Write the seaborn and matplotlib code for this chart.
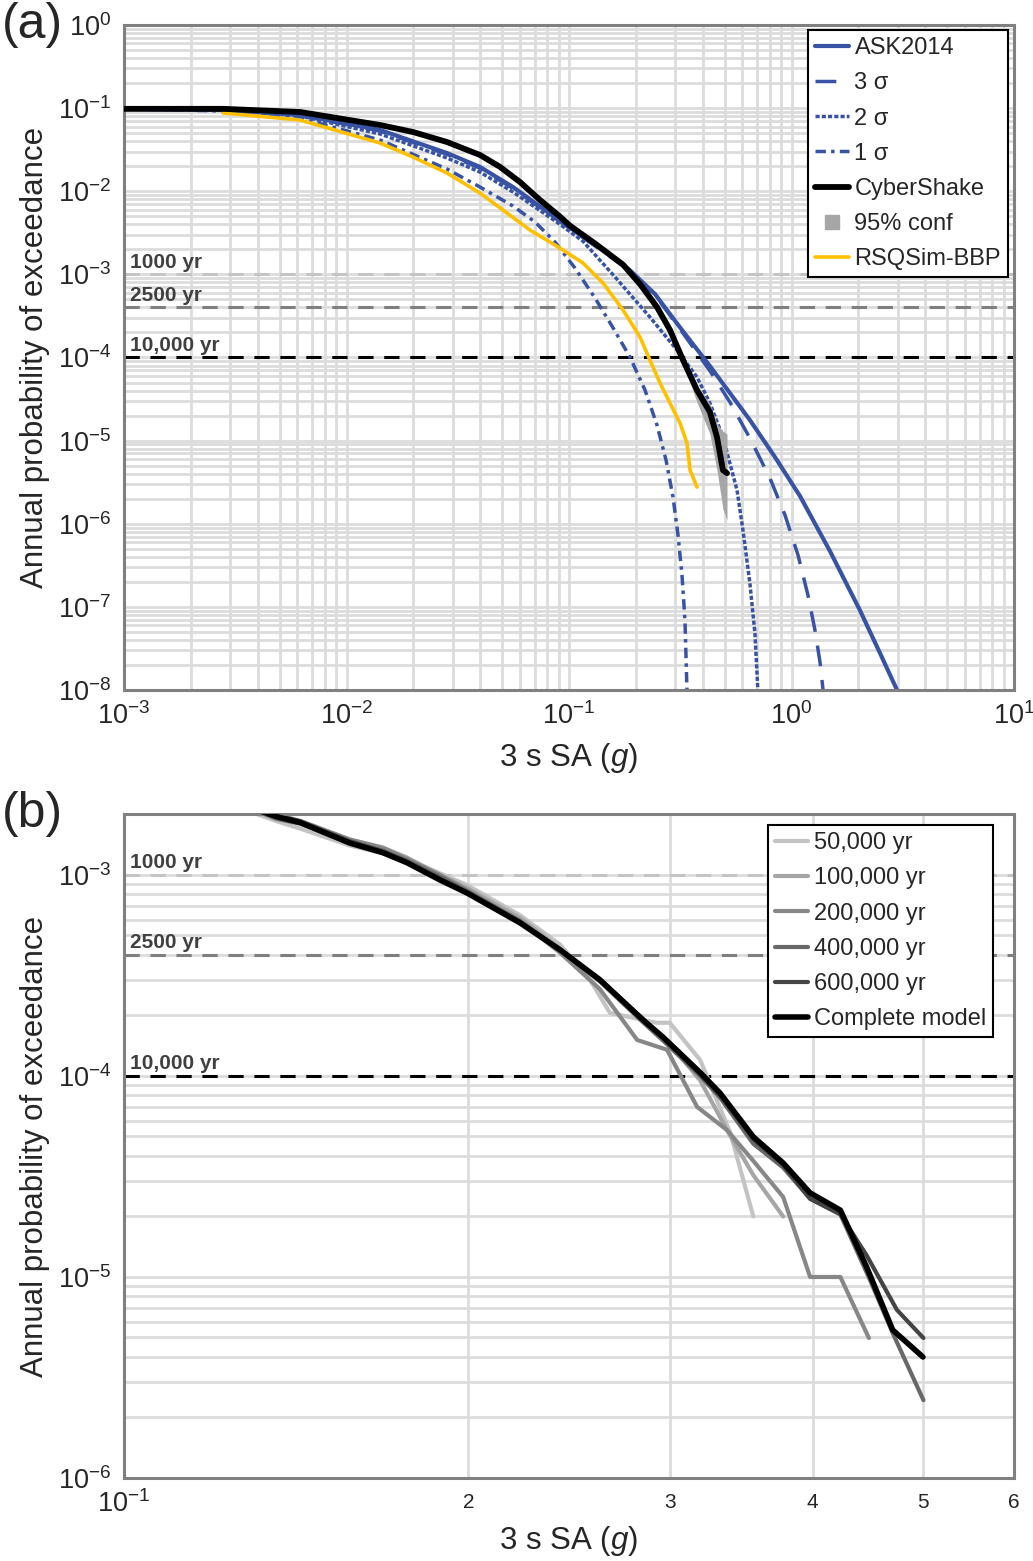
import matplotlib
matplotlib.use("Agg")
import matplotlib.pyplot as plt
import matplotlib.ticker as mticker
from matplotlib.lines import Line2D
import numpy as np
import seaborn as sns

sns.set_style("white")
plt.rcParams['font.family'] = ['Liberation Sans', 'DejaVu Sans']
plt.rcParams['mathtext.fontset'] = 'custom'
plt.rcParams['mathtext.rm'] = 'Liberation Sans'
plt.rcParams['mathtext.it'] = 'Liberation Sans:italic'
plt.rcParams['mathtext.bf'] = 'Liberation Sans:bold'
plt.rcParams['mathtext.sf'] = 'Liberation Sans'

# ---------------- panel (a) data ----------------
ask_x = [1e-3, 2.79e-3, 6.18e-3, 0.01416, 0.0283, 0.0398, 0.056, 0.0911, 0.1378, 0.188,
         0.2434, 0.3155, 0.430, 0.650, 0.843, 1.092, 1.489, 2.03, 2.50, 2.98]
ask_y = [0.098, 0.0949, 0.0826, 0.0545, 0.0288, 0.0196, 0.01124, 4.4e-3, 2.05e-3, 1.12e-3,
         5.8e-4, 2.3e-4, 7.88e-5, 1.77e-5, 6.33e-6, 2.15e-6, 4.68e-7, 9.1e-8, 2.77e-8, 1e-8]

s3_x = [1e-3, 2.79e-3, 6.18e-3, 0.01416, 0.0283, 0.0398, 0.056, 0.0911, 0.1378, 0.188,
        0.2434, 0.3155, 0.430, 0.529, 0.650, 0.800, 0.935, 1.070, 1.186, 1.275, 1.343, 1.386]
s3_y = [0.098, 0.0945, 0.0815, 0.0530, 0.0278, 0.0189, 0.0108, 4.3e-3, 2.0e-3, 1.1e-3,
        5.65e-4, 2.2e-4, 6.9e-5, 2.90e-5, 1.07e-5, 3.54e-6, 1.27e-6, 4.19e-7, 1.38e-7,
        5.25e-8, 2.16e-8, 1e-8]

s2_x = [1e-3, 2.79e-3, 6.18e-3, 0.01416, 0.0283, 0.0398, 0.056, 0.0911, 0.1156, 0.161,
        0.231, 0.3057, 0.376, 0.430, 0.492, 0.569, 0.605, 0.650, 0.685, 0.706]
s2_y = [0.098, 0.0949, 0.0804, 0.0488, 0.0251, 0.0170, 9.78e-3, 4.0e-3, 2.5e-3, 9.3e-4,
        3.06e-4, 1.23e-4, 5.81e-5, 2.83e-5, 1.10e-5, 2.54e-6, 8.4e-7, 1.93e-7, 4.8e-8, 1e-8]

s1_x = [1e-3, 2.79e-3, 6.18e-3, 0.01416, 0.0283, 0.0398, 0.056, 0.0704, 0.0865, 0.1064,
        0.1309, 0.156, 0.188, 0.2196, 0.2486, 0.273, 0.2934, 0.309, 0.322, 0.332, 0.339]
s1_y = [0.098, 0.0923, 0.0760, 0.0413, 0.0185, 0.01124, 6.64e-3, 4.26e-3, 2.45e-3, 1.19e-3,
        5.19e-4, 2.39e-4, 1.01e-4, 4.05e-5, 1.54e-5, 5.82e-6, 2.09e-6, 7.3e-7, 2.41e-7,
        6.9e-8, 1e-8]

cs_x = [1e-3, 2.79e-3, 6.18e-3, 0.01416, 0.0199, 0.0283, 0.0398, 0.0490, 0.0602, 0.0741,
        0.0911, 0.101, 0.1309, 0.1749, 0.2085, 0.2486, 0.2844, 0.3254, 0.376, 0.430,
        0.4625, 0.492, 0.513]
cs_y = [0.098, 0.098, 0.0898, 0.0626, 0.0516, 0.0391, 0.0273, 0.0196, 0.01291, 7.84e-3,
        4.95e-3, 3.85e-3, 2.35e-3, 1.31e-3, 7.64e-4, 4.04e-4, 2.14e-4, 9.3e-5, 4.06e-5,
        2.20e-5, 1.10e-5, 4.42e-6, 4.06e-6]

conf_x = [0.2844, 0.3254, 0.376, 0.430, 0.4625, 0.492, 0.513]
conf_lo = [2.1e-4, 8.5e-5, 2.9e-5, 1.2e-5, 4.4e-6, 1.5e-6, 1.1e-6]
conf_hi = [2.2e-4, 1.0e-4, 4.6e-5, 2.8e-5, 1.6e-5, 1.3e-5, 1.2e-5]

rsq_x = [2.79e-3, 6.18e-3, 0.01416, 0.0199, 0.0283, 0.0398, 0.0505, 0.0668, 0.0911, 0.1156,
         0.1422, 0.1749, 0.2085, 0.231, 0.2565, 0.2844, 0.3155, 0.339, 0.350, 0.376]
rsq_y = [0.0873, 0.0719, 0.0380, 0.0258, 0.01656, 9.51e-3, 5.94e-3, 3.41e-3, 2.07e-3, 1.37e-3,
         7.86e-4, 3.72e-4, 1.76e-4, 9.3e-5, 4.92e-5, 2.83e-5, 1.62e-5, 9.3e-6, 4.42e-6, 2.76e-6]

# ---------------- panel (b) data ----------------
cm_x = [0.125, 0.136, 0.1426, 0.1576, 0.1684, 0.1768, 0.1889, 0.1995, 0.222, 0.2406, 0.2607,
        0.2843, 0.296, 0.319, 0.332, 0.355, 0.377, 0.398, 0.423, 0.446, 0.470, 0.4995]
cm_y = [2.3e-3, 1.95e-3, 1.82e-3, 1.44e-3, 1.29e-3, 1.15e-3, 9.44e-4, 8.13e-4, 5.77e-4, 4.24e-4,
        3.01e-4, 1.90e-4, 1.56e-4, 1.04e-4, 8.22e-5, 4.98e-5, 3.69e-5, 2.62e-5, 2.15e-5,
        1.12e-5, 5.45e-6, 4.0e-6]

k600_x = [0.125, 0.136, 0.1426, 0.1576, 0.1684, 0.1768, 0.1889, 0.1995, 0.222, 0.2406, 0.2607,
          0.2843, 0.296, 0.319, 0.332, 0.355, 0.377, 0.398, 0.423, 0.446, 0.474, 0.5]
k600_y = [2.35e-3, 1.98e-3, 1.85e-3, 1.47e-3, 1.31e-3, 1.16e-3, 9.6e-4, 8.2e-4, 5.85e-4, 4.25e-4,
          3.0e-4, 1.92e-4, 1.55e-4, 1.02e-4, 8.0e-5, 4.85e-5, 3.6e-5, 2.45e-5, 2.05e-5,
          1.28e-5, 6.86e-6, 4.97e-6]

k400_x = [0.125, 0.136, 0.1426, 0.1576, 0.1684, 0.1768, 0.1889, 0.1995, 0.222, 0.2406, 0.2607,
          0.2843, 0.296, 0.319, 0.332, 0.355, 0.377, 0.398, 0.423, 0.449, 0.470, 0.5]
k400_y = [2.3e-3, 1.9e-3, 1.8e-3, 1.47e-3, 1.32e-3, 1.18e-3, 9.8e-4, 8.3e-4, 5.9e-4, 4.2e-4,
          2.95e-4, 1.85e-4, 1.5e-4, 1.0e-4, 7.8e-5, 4.6e-5, 3.5e-5, 2.45e-5, 2.05e-5,
          9.66e-6, 5.26e-6, 2.44e-6]

k200_x = [0.125, 0.136, 0.1426, 0.1576, 0.1684, 0.1768, 0.1889, 0.1995, 0.222, 0.2406, 0.2607,
          0.281, 0.2984, 0.317, 0.3367, 0.355, 0.377, 0.398, 0.423, 0.448]
k200_y = [2.3e-3, 1.95e-3, 1.85e-3, 1.5e-3, 1.36e-3, 1.2e-3, 1.0e-3, 8.4e-4, 5.9e-4, 4.1e-4,
          2.7e-4, 1.51e-4, 1.35e-4, 7.02e-5, 5.38e-5, 3.78e-5, 2.5e-5, 1.0e-5, 1.0e-5, 4.97e-6]

k100_x = [0.125, 0.136, 0.1426, 0.1576, 0.1684, 0.1768, 0.1889, 0.1995, 0.222, 0.2406, 0.2607,
          0.2843, 0.300, 0.319, 0.3367, 0.355, 0.377]
k100_y = [2.4e-3, 2.0e-3, 1.86e-3, 1.5e-3, 1.37e-3, 1.22e-3, 1.0e-3, 8.6e-4, 6.1e-4, 4.3e-4,
          3.0e-4, 1.9e-4, 1.45e-4, 9.5e-5, 5.38e-5, 3.21e-5, 2.0e-5]

k50_x = [0.125, 0.136, 0.1426, 0.1576, 0.1768, 0.1995, 0.222, 0.2406, 0.2556, 0.266, 0.292,
         0.300, 0.319, 0.339, 0.355]
k50_y = [2.2e-3, 1.85e-3, 1.7e-3, 1.40e-3, 1.2e-3, 8.9e-4, 6.3e-4, 4.5e-4, 3.0e-4, 2.06e-4,
         1.84e-4, 1.84e-4, 1.2e-4, 5.2e-5, 2.0e-5]

rp_vals = [1e-3, 4e-4, 1e-4]
rp_labels = ['1000 yr', '2500 yr', '10,000 yr']
rp_colors = ['#c4c4c4', '#7f7f7f', '#000000']

blue = '#3953a4'
gold = '#ffc000'

fig = plt.figure(figsize=(10.33, 15.61), dpi=100)
ax1 = fig.add_axes([0.12004, 0.55798, 0.86157, 0.42601])
ax2 = fig.add_axes([0.12004, 0.05317, 0.86157, 0.42537])


def style_axes(ax):
    ax.set_xscale('log')
    ax.set_yscale('log')
    ax.grid(True, which='both', color='#dcdcdc', lw=2)
    ax.set_axisbelow(True)
    for s in ax.spines.values():
        s.set_color('#808080')
        s.set_linewidth(2.2)
    ax.tick_params(which='both', length=0, labelsize=19.5, pad=9)


def return_lines(ax):
    for v, lab, c in zip(rp_vals, rp_labels, rp_colors):
        ax.axhline(v, color=c, lw=2.2, linestyle=(0, (5, 3.5)), zorder=1.5)
        ax.annotate(lab, xy=(0.007, v), xycoords=('axes fraction', 'data'),
                    xytext=(0, 2), textcoords='offset points', va='bottom', ha='left',
                    fontsize=15, fontweight='bold', color='#404040', zorder=3)


# ---------------- panel (a) ----------------
style_axes(ax1)
return_lines(ax1)
sns.lineplot(x=ask_x, y=ask_y, color=blue, lw=3, ax=ax1)
sns.lineplot(x=s3_x, y=s3_y, color=blue, lw=2.5, linestyle=(0, (6, 4)), ax=ax1)
sns.lineplot(x=s2_x, y=s2_y, color=blue, lw=2.5, linestyle=(0, (1.2, 0.6)), ax=ax1)
sns.lineplot(x=s1_x, y=s1_y, color=blue, lw=2.5, linestyle=(0, (3, 1.5, 1, 1.5)), ax=ax1)
ax1.fill_between(conf_x, conf_lo, conf_hi, color='#a6a6a6', lw=0, zorder=2.5)
sns.lineplot(x=rsq_x, y=rsq_y, color=gold, lw=2.6, ax=ax1)
sns.lineplot(x=cs_x, y=cs_y, color='black', lw=4.2, ax=ax1, zorder=4)

ax1.set_xlim(1e-3, 10)
ax1.set_ylim(1e-8, 1)
ax1.xaxis.set_major_locator(mticker.LogLocator(base=10, numticks=20))
ax1.yaxis.set_major_locator(mticker.LogLocator(base=10, numticks=20))
ax1.xaxis.set_minor_locator(mticker.LogLocator(base=10, subs=np.arange(2, 10), numticks=100))
ax1.yaxis.set_minor_locator(mticker.LogLocator(base=10, subs=np.arange(2, 10), numticks=100))
ax1.xaxis.set_minor_formatter(mticker.NullFormatter())
ax1.yaxis.set_minor_formatter(mticker.NullFormatter())
ax1.set_xlabel(r'3 s SA ($g$)', fontsize=22.5, labelpad=8)
ax1.set_ylabel('Annual probability of exceedance', fontsize=22.5, labelpad=6)

h1 = [Line2D([], [], color=blue, lw=3),
      Line2D([], [], color=blue, lw=2.5, linestyle=(0, (6, 4))),
      Line2D([], [], color=blue, lw=2.5, linestyle=(0, (1.2, 0.6))),
      Line2D([], [], color=blue, lw=2.5, linestyle=(0, (3, 1.5, 1, 1.5))),
      Line2D([], [], color='black', lw=4.2),
      Line2D([], [], color='#a6a6a6', marker='s', markersize=10, linestyle='none'),
      Line2D([], [], color=gold, lw=2.6)]
l1 = ['ASK2014', '3 σ', '2 σ', '1 σ', 'CyberShake', '95% conf', 'RSQSim-BBP']
leg = ax1.legend(h1, l1, loc='upper right', bbox_to_anchor=(0.9933, 0.9925), borderaxespad=0,
                 fontsize=17, frameon=True, fancybox=False, framealpha=1, edgecolor='black',
                 handlelength=1.4, handletextpad=0.25, labelspacing=0.56, borderpad=0.3)
leg.get_frame().set_linewidth(1.5)

# ---------------- panel (b) ----------------
style_axes(ax2)
return_lines(ax2)
grey_sets = [(k50_x, k50_y, '#c3c3c3', '50,000 yr'),
             (k100_x, k100_y, '#a5a5a5', '100,000 yr'),
             (k200_x, k200_y, '#878787', '200,000 yr'),
             (k400_x, k400_y, '#686868', '400,000 yr'),
             (k600_x, k600_y, '#444444', '600,000 yr')]
for gx, gy, gc, gl in grey_sets:
    sns.lineplot(x=gx, y=gy, color=gc, lw=3, ax=ax2)
sns.lineplot(x=cm_x, y=cm_y, color='black', lw=4, ax=ax2, zorder=4)

ax2.set_xlim(0.1, 0.6)
ax2.set_ylim(1e-6, 2.01e-3)
ax2.set_xticks([0.1])
ax2.xaxis.set_major_formatter(mticker.LogFormatterSciNotation())
ax2.set_xticks([0.2, 0.3, 0.4, 0.5, 0.6], labels=['2', '3', '4', '5', '6'], minor=True)
ax2.tick_params(axis='x', which='minor', labelsize=15, pad=11)
ax2.yaxis.set_major_locator(mticker.LogLocator(base=10, numticks=20))
ax2.yaxis.set_minor_locator(mticker.LogLocator(base=10, subs=np.arange(2, 10), numticks=100))
ax2.yaxis.set_minor_formatter(mticker.NullFormatter())
ax2.set_xlabel(r'3 s SA ($g$)', fontsize=22.5, labelpad=4)
ax2.set_ylabel('Annual probability of exceedance', fontsize=22.5, labelpad=6)

h2 = [Line2D([], [], color=gc, lw=3) for _, _, gc, _ in grey_sets] + \
     [Line2D([], [], color='black', lw=4)]
l2 = [gl for _, _, _, gl in grey_sets] + ['Complete model']
leg2 = ax2.legend(h2, l2, loc='upper right', bbox_to_anchor=(0.9764, 0.9834), borderaxespad=0,
                  fontsize=17, frameon=True, fancybox=False, framealpha=1, edgecolor='black',
                  handlelength=1.4, handletextpad=0.25, labelspacing=0.56, borderpad=0.3)
leg2.get_frame().set_linewidth(1.5)

fig.text(0.002, 0.999, '(a)', fontsize=36, va='top', ha='left')
fig.text(0.002, 0.4935, '(b)', fontsize=36, va='top', ha='left')

fig.savefig('out.png', dpi=100)
